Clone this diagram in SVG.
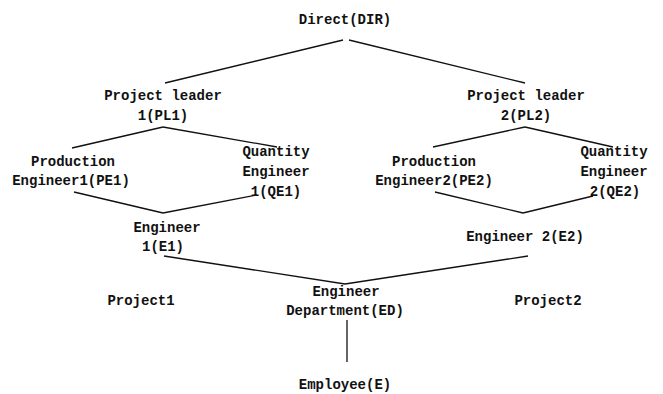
<svg xmlns="http://www.w3.org/2000/svg" width="663" height="394" viewBox="0 0 663 394">
<style>
text{font-family:"Liberation Mono","DejaVu Sans Mono",monospace;font-weight:bold;font-size:14px;fill:#111;text-anchor:middle}
.c line{stroke:#111;stroke-width:1.3}
</style>
<rect width="663" height="394" fill="#fff"/>
<g class="c" id="connectors">
<line x1="343" y1="40" x2="165" y2="83"/>
<line x1="349" y1="40" x2="525" y2="83"/>
<line x1="163" y1="127" x2="72" y2="148"/>
<line x1="163" y1="127" x2="277" y2="147"/>
<line x1="74" y1="192" x2="163" y2="213"/>
<line x1="163" y1="213" x2="257" y2="195"/>
<line x1="525" y1="127" x2="433" y2="147"/>
<line x1="525" y1="127" x2="613" y2="147"/>
<line x1="435" y1="192" x2="523" y2="213"/>
<line x1="523" y1="213" x2="593" y2="196"/>
<line x1="164" y1="256" x2="345" y2="284"/>
<line x1="345" y1="284" x2="528" y2="256"/>
<line x1="347" y1="320" x2="347" y2="362" stroke-width="0.8"/>
</g>
<g id="DIR"><text x="345" y="24">Direct(DIR)</text></g>
<g id="PL1"><text x="163" y="100">Project leader</text><text x="163" y="120">1(PL1)</text></g>
<g id="PL2"><text x="526" y="100">Project leader</text><text x="526" y="120">2(PL2)</text></g>
<g id="PE1"><text x="73" y="166">Production</text><text x="71" y="185">Engineer1(PE1)</text></g>
<g id="QE1"><text x="276" y="156">Quantity</text><text x="276" y="176">Engineer</text><text x="276" y="196">1(QE1)</text></g>
<g id="E1"><text x="167" y="232">Engineer</text><text x="163" y="251">1(E1)</text></g>
<g id="PE2"><text x="434" y="166">Production</text><text x="434" y="185">Engineer2(PE2)</text></g>
<g id="QE2"><text x="614" y="156">Quantity</text><text x="614" y="176">Engineer</text><text x="615" y="196">2(QE2)</text></g>
<g id="E2"><text x="525" y="241">Engineer 2(E2)</text></g>
<g id="ED"><text x="346" y="296">Engineer</text><text x="345" y="315">Department(ED)</text></g>
<g id="P1"><text x="141" y="305">Project1</text></g>
<g id="P2"><text x="548" y="305">Project2</text></g>
<g id="E"><text x="345" y="389">Employee(E)</text></g>
</svg>
